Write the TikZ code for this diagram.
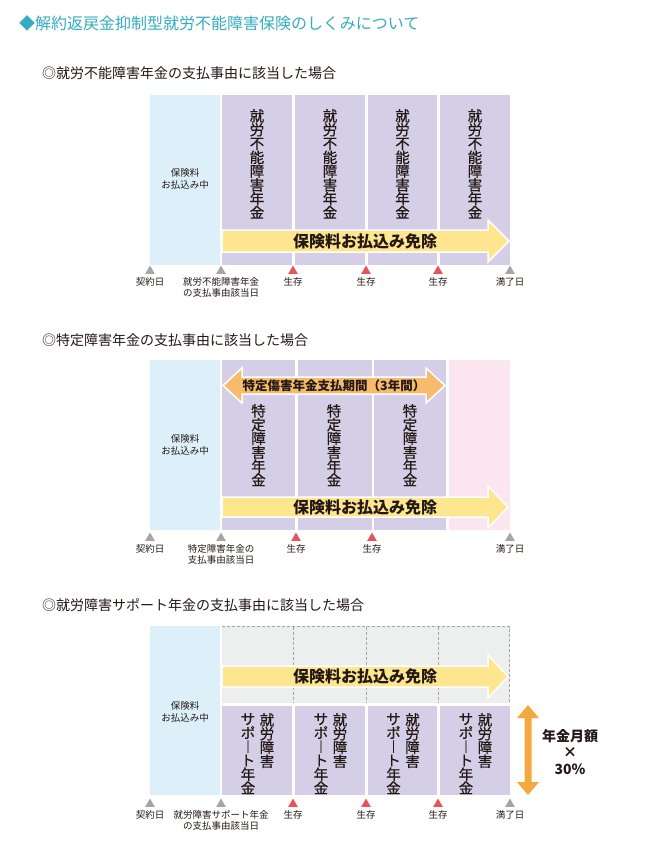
\documentclass[tikz,border=0pt]{standalone}
\usepackage{fontspec}
\setmainfont{Noto Sans CJK JP}
\newfontfamily\medio[FakeBold=0.5]{Noto Sans CJK JP}
\usetikzlibrary{positioning,shapes.geometric}

\definecolor{turquesa}{RGB}{53,173,192}
\definecolor{azulclaro}{RGB}{221,240,250}
\definecolor{lila}{RGB}{212,207,230}
\definecolor{rosa}{RGB}{251,229,239}
\definecolor{grisfondo}{RGB}{237,238,238}
\definecolor{grisraya}{RGB}{165,165,165}
\definecolor{amarillo}{RGB}{254,230,143}
\definecolor{naranja}{RGB}{247,188,107}
\definecolor{naranjafuerte}{RGB}{244,169,62}
\definecolor{rojo}{RGB}{232,84,92}
\definecolor{gristri}{RGB}{165,165,165}
\definecolor{tinta}{RGB}{35,24,21}

\tikzset{
  encabezado/.style={anchor=west, inner sep=0, text=tinta, font=\fontsize{14}{14}\selectfont},
  pequeno/.style={align=center, inner sep=0, text=tinta, font=\fontsize{9.5}{11.5}\selectfont},
  vertical/.style={anchor=north, align=center, inner sep=0, text=tinta, font=\medio\fontsize{14.5}{13.8}\selectfont},
  textoflecha/.style={inner sep=0, text=tinta, font=\fontsize{16}{16}\selectfont\bfseries},
  flechaamarilla/.style={fill=amarillo, draw=white, line width=1.5pt, line join=miter},
  flechadoble/.style={fill=naranja, draw=white, line width=1.5pt},
  marca/.style={regular polygon, regular polygon sides=3, minimum size=11pt, inner sep=0, draw=none},
  marcagris/.style={marca, fill=gristri},
  marcaroja/.style={marca, fill=rojo},
  raya/.style={draw=grisraya, dashed, dash pattern=on 3pt off 2pt, line width=0.8pt}
}

\begin{document}
\begin{tikzpicture}[x=1pt,y=-1pt]
\useasboundingbox (0,0) rectangle (660,847);

% Titulo
\node[anchor=west, inner sep=0, text=turquesa, font=\fontsize{16}{16}\selectfont] (titulo) at (19,23) {◆解約返戻金抑制型就労不能障害保険のしくみについて};

% ---------- Caso 1 ----------
\node[encabezado] (cab1) at (42,73) {◎就労不能障害年金の支払事由に該当した場合};
\fill[azulclaro] (150,95) rectangle (220,265);
\foreach \a/\b in {222/292,295/365,368/437,440/510}
  \fill[lila] (\a,95) rectangle (\b,265);
\node[pequeno] (pago1) at (185,179) {保険料\\お払込み中};
\foreach \x [count=\i] in {257,330,402.5,475}
  \node[vertical] (anual1-\i) at (\x,109) {就\\労\\不\\能\\障\\害\\年\\金};
% flecha de exencion
\draw[flechaamarilla] (222,230) -- (488,230) -- (488,220) -- (509,241) -- (488,262) -- (488,252) -- (222,252) -- cycle;
\node[textoflecha] (exento1) at (365,241) {保険料お払込み免除};
% marcas
\node[marcagris] (m1-1) at (150,271) {};
\node[marcagris] (m1-2) at (221,271) {};
\node[marcaroja] (m1-3) at (293,271) {};
\node[marcaroja] (m1-4) at (366,271) {};
\node[marcaroja] (m1-5) at (438,271) {};
\node[marcagris] (m1-6) at (510,271) {};
\node[pequeno, below=3pt of m1-1] (e1-1) {契約日};
\node[pequeno, below=3pt of m1-2] (e1-2) {就労不能障害年金\\の支払事由該当日};
\node[pequeno, below=3pt of m1-3] (e1-3) {生存};
\node[pequeno, below=3pt of m1-4] (e1-4) {生存};
\node[pequeno, below=3pt of m1-5] (e1-5) {生存};
\node[pequeno, below=3pt of m1-6] (e1-6) {満了日};

% ---------- Caso 2 ----------
\node[encabezado] (cab2) at (42,340) {◎特定障害年金の支払事由に該当した場合};
\fill[azulclaro] (150,360) rectangle (220,530);
\foreach \a/\b in {222/295,298/372,374/446}
  \fill[lila] (\a,360) rectangle (\b,530);
\fill[rosa] (449,360) rectangle (510,530);
\node[pequeno] (pago2) at (185,445) {保険料\\お払込み中};
\foreach \x [count=\i] in {258.5,334,410}
  \node[vertical] (anual2-\i) at (\x,404) {特\\定\\障\\害\\年\\金};
% periodo de pago
\draw[flechadoble] (223,385.5) -- (242,368) -- (242,377) -- (426,377) -- (426,368) -- (445,385.5) -- (426,403) -- (426,394) -- (242,394) -- (242,403) -- cycle;
\node[inner sep=0, text=tinta, font=\fontsize{12.5}{12.5}\selectfont\bfseries] (periodo) at (334,385.5) {特定傷害年金支払期間（3年間）};
\draw[flechaamarilla] (222,497) -- (488,497) -- (488,486) -- (508,507) -- (488,528) -- (488,517) -- (222,517) -- cycle;
\node[textoflecha] (exento2) at (365,507) {保険料お払込み免除};
% marcas
\node[marcagris] (m2-1) at (150,538) {};
\node[marcagris] (m2-2) at (221,538) {};
\node[marcaroja] (m2-3) at (296,538) {};
\node[marcaroja] (m2-4) at (372,538) {};
\node[marcagris] (m2-5) at (510,538) {};
\node[pequeno, below=3pt of m2-1] (e2-1) {契約日};
\node[pequeno, below=3pt of m2-2] (e2-2) {特定障害年金の\\支払事由該当日};
\node[pequeno, below=3pt of m2-3] (e2-3) {生存};
\node[pequeno, below=3pt of m2-4] (e2-4) {生存};
\node[pequeno, below=3pt of m2-5] (e2-5) {満了日};

% ---------- Caso 3 ----------
\node[encabezado] (cab3) at (42,605) {◎就労障害サポート年金の支払事由に該当した場合};
\fill[azulclaro] (150,626) rectangle (220,795);
\fill[grisfondo] (222,626) rectangle (510,703);
\draw[raya] (222,626.5) -- (509.5,626.5) -- (509.5,703);
\foreach \x in {293.5,366.5,438.5}
  \draw[raya] (\x,626.5) -- (\x,703);
\foreach \a/\b in {222/292,295/365,368/437,440/510}
  \fill[lila] (\a,706) rectangle (\b,795);
\node[pequeno] (pago3) at (185,712) {保険料\\お払込み中};
\draw[flechaamarilla] (222,666) -- (488,666) -- (488,655) -- (508,676.5) -- (488,698) -- (488,687) -- (222,687) -- cycle;
\node[textoflecha] (exento3) at (365,676.5) {保険料お払込み免除};
\foreach \x [count=\i] in {257,330,402.5,475}{
  \node[vertical] (apoyo-\i) at (\x+10,713) {就\\労\\障\\害};
  \node[vertical] (anual3-\i) at (\x-9,713) {サ\\ポ\\︱\\ト\\年\\金};
}
% monto mensual
\fill[naranjafuerte] (528,705) -- (539,718) -- (531.5,718) -- (531.5,782) -- (539,782) -- (528,795) -- (517,782) -- (524.5,782) -- (524.5,718) -- (517,718) -- cycle;
\node[align=center, inner sep=0, text=tinta, font=\fontsize{14}{16.5}\selectfont\bfseries] (monto) at (570,752) {年金月額\\×\\30\%};
% marcas
\node[marcagris] (m3-1) at (150,804) {};
\node[marcagris] (m3-2) at (221,804) {};
\node[marcaroja] (m3-3) at (293,804) {};
\node[marcaroja] (m3-4) at (366,804) {};
\node[marcaroja] (m3-5) at (438,804) {};
\node[marcagris] (m3-6) at (510,804) {};
\node[pequeno, below=3pt of m3-1] (e3-1) {契約日};
\node[pequeno, below=3pt of m3-2] (e3-2) {就労障害サポート年金\\の支払事由該当日};
\node[pequeno, below=3pt of m3-3] (e3-3) {生存};
\node[pequeno, below=3pt of m3-4] (e3-4) {生存};
\node[pequeno, below=3pt of m3-5] (e3-5) {生存};
\node[pequeno, below=3pt of m3-6] (e3-6) {満了日};
\end{tikzpicture}
\end{document}
